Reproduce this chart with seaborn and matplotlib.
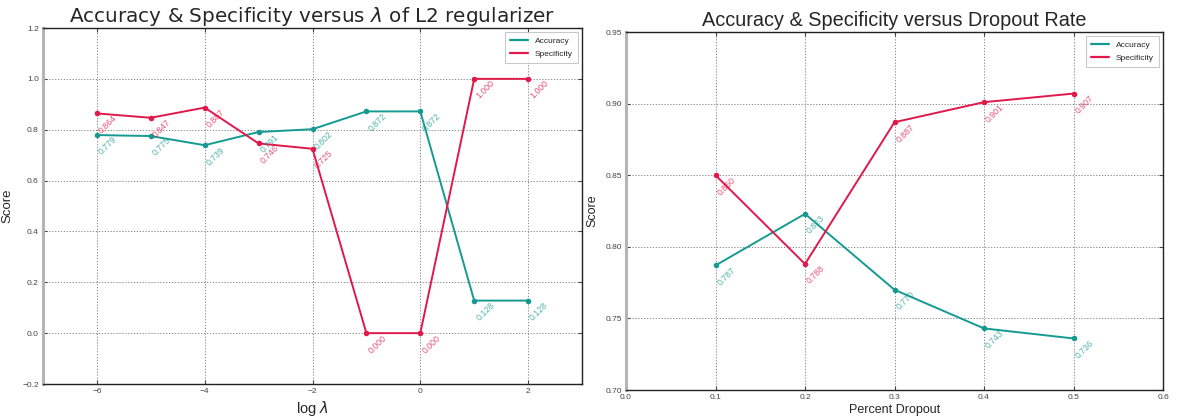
import numpy as np
import pandas as pd
import matplotlib
matplotlib.use("Agg")
import matplotlib.pyplot as plt
from matplotlib.lines import Line2D
import seaborn as sns

# data
log_lambda = [-6, -5, -4, -3, -2, -1, 0, 1, 2]
acc_l2 = [0.779, 0.775, 0.739, 0.791, 0.802, 0.872, 0.872, 0.128, 0.128]
spec_l2 = [0.864, 0.847, 0.887, 0.746, 0.725, 0.000, 0.000, 1.000, 1.000]

dropout = [0.1, 0.2, 0.3, 0.4, 0.5]
acc_drop = [0.787, 0.823, 0.770, 0.743, 0.736]
spec_drop = [0.850, 0.788, 0.887, 0.901, 0.907]

TEAL = "#159a91"
RED = "#e0194a"

sns.set_style("white")
plt.rcParams['font.family'] = ['Liberation Sans', 'DejaVu Sans']

fig = plt.figure(figsize=(11.79, 4.19), dpi=100)
ax1 = fig.add_axes([43 / 1179, 1 - 384 / 419, (582 - 43) / 1179, (384 - 28) / 419])
ax2 = fig.add_axes([626 / 1179, 1 - 390 / 419, (1163 - 626) / 1179, (390 - 32) / 419])


def draw(ax, x, acc, spec):
    df = pd.DataFrame({"x": x, "Accuracy": acc, "Specificity": spec})
    long = df.melt(id_vars="x", var_name="metric", value_name="score")
    sns.lineplot(data=long, x="x", y="score", hue="metric",
                 palette={"Accuracy": TEAL, "Specificity": RED},
                 marker="o", markersize=4, markeredgewidth=0, linewidth=1.4,
                 legend=False, ax=ax)
    # value labels, rotated, hanging below-right of each point
    for xs, ys, c in [(x, acc, TEAL), (x, spec, RED)]:
        for xi, yi in zip(xs, ys):
            ax.text(xi, yi, f"{yi:.3f}", color=c, alpha=0.75, fontsize=6.3,
                    rotation=45, ha="left", va="top")
    ax.grid(True, color="#777777", linestyle=(0, (1.5, 2)), linewidth=0.6)
    ax.tick_params(axis="both", labelsize=6, colors="#444444", length=3, pad=3,
                   direction="in", left=True, bottom=True, right=True, top=True)
    for s in ["top", "right", "bottom"]:
        ax.spines[s].set_color("#222222")
        ax.spines[s].set_linewidth(1.0)
    ax.spines["left"].set_color("#b5b5b5")
    ax.spines["left"].set_linewidth(2.2)
    handles = [Line2D([], [], color=TEAL, lw=1.6), Line2D([], [], color=RED, lw=1.6)]
    leg = ax.legend(handles, ["Accuracy", "Specificity"], loc="upper right",
                    fontsize=6, frameon=True, handlelength=2.2,
                    borderpad=0.6, labelspacing=0.6)
    leg.get_frame().set_edgecolor("#bbbbbb")
    leg.get_frame().set_linewidth(0.8)
    leg.get_frame().set_boxstyle("square", pad=0)


draw(ax1, log_lambda, acc_l2, spec_l2)
ax1.set_xlim(-7, 3)
ax1.set_ylim(-0.2, 1.2)
ax1.set_xticks([-6, -4, -2, 0, 2])
ax1.set_yticks(np.round(np.arange(-0.2, 1.21, 0.2), 1))
ax1.set_title(r"Accuracy & Specificity versus $\lambda$ of L2 regularizer",
              fontsize=14.4, family="DejaVu Sans", pad=4)
ax1.set_xlabel(r"log $\lambda$", fontsize=10.5, labelpad=3)
ax1.set_ylabel("Score", fontsize=9.5, labelpad=6)

draw(ax2, dropout, acc_drop, spec_drop)
ax2.set_xlim(0.0, 0.6)
ax2.set_ylim(0.70, 0.95)
ax2.set_xticks(np.round(np.arange(0, 0.61, 0.1), 1))
ax2.set_yticks(np.round(np.arange(0.70, 0.951, 0.05), 2))
ax2.yaxis.set_major_formatter(matplotlib.ticker.FormatStrFormatter("%.2f"))
ax2.set_title("Accuracy & Specificity versus Dropout Rate", fontsize=14.3, pad=4)
ax2.set_xlabel("Percent Dropout", fontsize=9, labelpad=2)
ax2.set_ylabel("Score", fontsize=9, labelpad=5)

fig.savefig("out.png", dpi=100)
